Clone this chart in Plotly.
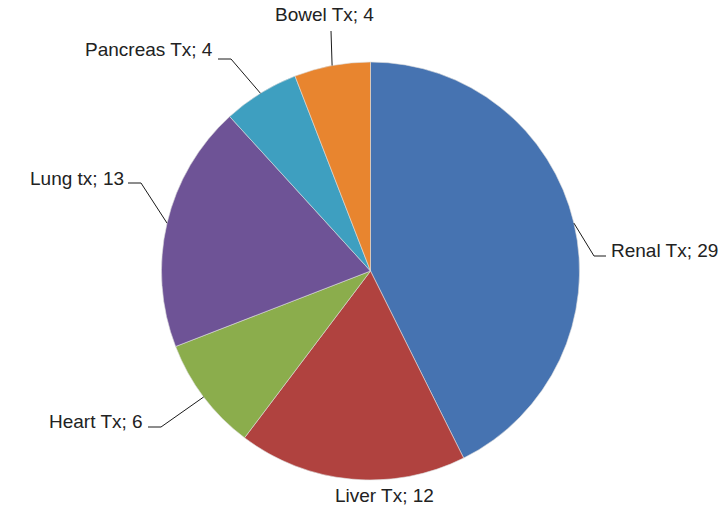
import math
import plotly.graph_objects as go

categories = ["Renal Tx", "Liver Tx", "Heart Tx", "Lung tx", "Pancreas Tx", "Bowel Tx"]
values = [29, 12, 6, 13, 4, 4]
colors = ["#4673B1", "#B0423F", "#8BAD4C", "#6E5396", "#3E9FC0", "#E8852F"]

W, H = 725, 522
cx, cy, R = 370.5, 271, 209

fig = go.Figure(go.Pie(
    labels=categories, values=values, sort=False, direction="clockwise", rotation=0,
    marker=dict(colors=colors, line=dict(color="#dcdcdc", width=0.6)),
    textinfo="none", hoverinfo="label+value", showlegend=False,
    domain=dict(x=[(cx - R) / W, (cx + R) / W], y=[1 - (cy + R) / H, 1 - (cy - R) / H]),
))

# label layout: (elbow point, end of horizontal segment, text anchor position, xanchor)
label_layout = {
    "Renal Tx": dict(elbow=(594, 256), end=(606, 256), text=(609, 250), xa="left"),
    "Liver Tx": dict(elbow=None, end=None, text=(385, 495), xa="center"),
    "Heart Tx": dict(elbow=(161, 427), end=(148, 427), text=(145, 421), xa="right"),
    "Lung tx": dict(elbow=(141, 183), end=(128, 183), text=(126, 178), xa="right"),
    "Pancreas Tx": dict(elbow=(231, 59), end=(218, 59), text=(215, 49), xa="right"),
    "Bowel Tx": dict(elbow=(331, 31), end=(331, 31), text=(324, 14), xa="center"),
}

total = sum(values)
cum = 0
shapes = []
annotations = []
for cat, v in zip(categories, values):
    mid = (cum + v / 2) / total * 2 * math.pi
    cum += v
    ex, ey = cx + R * math.sin(mid), cy - R * math.cos(mid)
    lay = label_layout[cat]
    if lay["elbow"] is not None:
        (bx, by), (fx, fy) = lay["elbow"], lay["end"]
        shapes.append(dict(type="path", xref="paper", yref="paper",
                           path=f"M {ex/W} {1-ey/H} L {bx/W} {1-by/H} L {fx/W} {1-fy/H}",
                           line=dict(color="#1a1a1a", width=1)))
    tx, ty = lay["text"]
    annotations.append(dict(x=tx / W, y=1 - ty / H, xref="paper", yref="paper",
                            text=f"{cat}; {v}", showarrow=False, xanchor=lay["xa"], yanchor="middle",
                            font=dict(family="Liberation Sans, Arial", size=19, color="#222222")))

fig.update_layout(width=W, height=H, margin=dict(l=0, r=0, t=0, b=0),
                  paper_bgcolor="white", plot_bgcolor="white",
                  shapes=shapes, annotations=annotations)
fig.write_html("out.html")
